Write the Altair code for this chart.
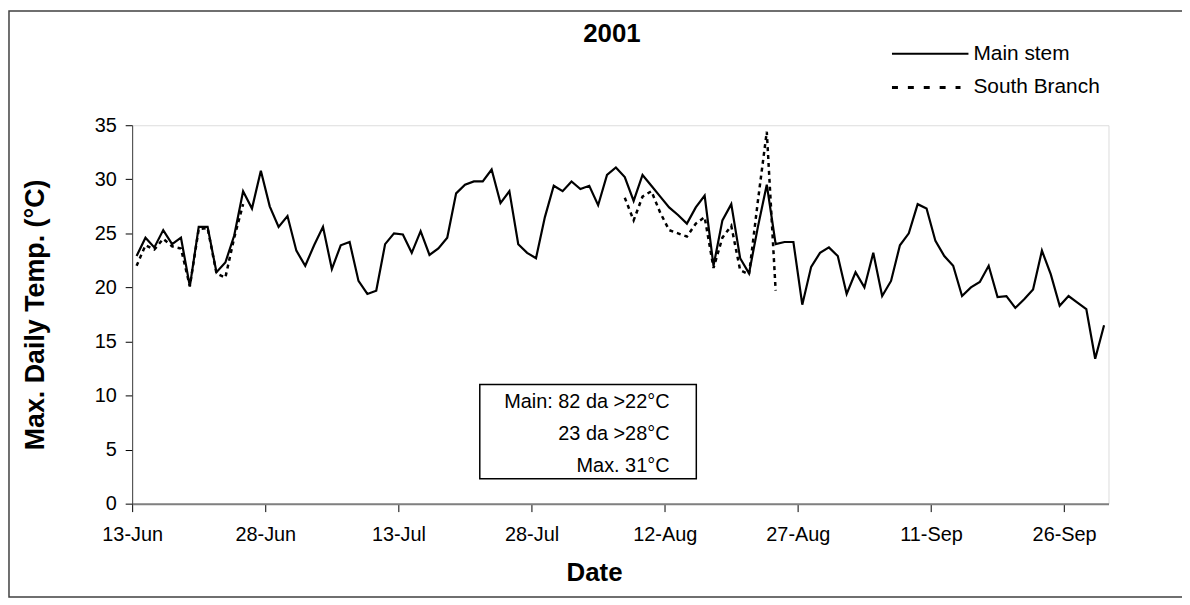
import altair as alt
import pandas as pd

start_date = "2001-06-13"

main_stem = [
    22.9, 24.6, 23.7, 25.3, 24.0, 24.6, 20.1, 25.6, 25.6, 21.4,
    22.3, 24.8, 28.9, 27.3, 30.8, 27.5, 25.6, 26.6, 23.4, 22.0,
    23.9, 25.6, 21.7, 23.9, 24.2, 20.6, 19.4, 19.7, 24.0, 25.0,
    24.9, 23.2, 25.2, 23.0, 23.6, 24.6, 28.7, 29.5, 29.8, 29.8,
    30.9, 27.8, 28.9, 24.0, 23.2, 22.7, 26.5, 29.4, 28.9, 29.8,
    29.1, 29.4, 27.6, 30.4, 31.1, 30.2, 28.0, 30.4, 29.4, 28.4,
    27.4, 26.7, 25.9, 27.4, 28.5, 22.0, 26.2, 27.7, 22.7, 21.3,
    25.6, 29.5, 24.0, 24.2, 24.2, 18.4, 21.9, 23.2, 23.7, 22.9,
    19.4, 21.4, 20.0, 23.2, 19.2, 20.6, 23.9, 25.0, 27.7, 27.3,
    24.3, 22.9, 22.0, 19.2, 20.0, 20.5, 22.0, 19.1, 19.2, 18.1,
    18.9, 19.8, 23.4, 21.2, 18.3, 19.2, 18.6, 18.0, 13.4, 16.5,
]

N = None
south_branch = [
    22.0, 23.9, 23.5, 24.5, 23.8, 23.6, 20.1, 25.4, 25.5, 21.3,
    20.9, 24.6, 27.7, N, N, N, N, N, N, N,
    N, N, N, N, N, N, N, N, N, N,
    N, N, N, N, N, N, N, N, N, N,
    N, N, N, N, N, N, N, N, N, N,
    N, N, N, N, N, 28.3, 26.2, 28.4, 28.9, 26.9,
    25.3, 25.0, 24.7, 25.9, 26.5, 21.8, 24.6, 25.7, 21.6, 21.2,
    28.0, 34.4, 19.7, N, N, N, N, N, N, N,
    N, N, N, N, N, N, N, N, N, N,
    N, N, N, N, N, N, N, N, N, N,
    N, N, N, N, N, N, N, N, N, N,
]

tick_dates = [(6, 13), (6, 28), (7, 13), (7, 28), (8, 12), (8, 27), (9, 11), (9, 26)]
y_ticks = [0, 5, 10, 15, 20, 25, 30, 35]
series_names = ["Main stem", "South Branch"]
box_lines = ["Main: 82 da >22°C", "23 da >28°C", "Max. 31°C"]
chart_title = "2001"

FONT = "Liberation Sans"

dates = pd.date_range(start_date, periods=len(main_stem), freq="D") + pd.Timedelta(hours=12)
main_df = pd.DataFrame({"date": dates, "temp": main_stem})
south_df = pd.DataFrame({"date": dates, "temp": south_branch})
south_df["seg"] = south_df["temp"].isna().cumsum()
south_df = south_df.dropna().reset_index(drop=True)

x_enc = alt.X(
    "date:T",
    scale=alt.Scale(
        domain=[alt.DateTime(year=2001, month=6, date=13), alt.DateTime(year=2001, month=10, date=1)],
        nice=False,
    ),
    axis=alt.Axis(
        values=[alt.DateTime(year=2001, month=m, date=d) for m, d in tick_dates],
        format="%d-%b",
        title="Date",
        titleFontSize=26,
        titleFontWeight="bold",
        titleX=465,
        titleY=69,
        titleBaseline="middle",
        titleAlign="center",
        labelFontSize=20,
        labelColor="black",
        labelPadding=13,
        tickSize=8,
        tickColor="black",
        domainColor="#808080",
        domainWidth=2,
        grid=False,
        labelFlush=False,
        labelOverlap=False,
    ),
)

y_enc = alt.Y(
    "temp:Q",
    scale=alt.Scale(domain=[0, 35], nice=False, zero=True),
    axis=alt.Axis(
        values=y_ticks,
        title="Max. Daily Temp. (°C)",
        titleFontSize=27,
        titleFontWeight="bold",
        titleAngle=-90,
        titleX=-97,
        titleY=190.5,
        titleBaseline="middle",
        titleAlign="center",
        labelFontSize=20,
        labelColor="black",
        labelPadding=9,
        tickSize=7,
        tickColor="black",
        domainColor="#404040",
        domainWidth=1,
        grid=False,
    ),
)

main_line = alt.Chart(main_df).mark_line(color="black", strokeWidth=2.2).encode(x=x_enc, y=y_enc)

south_line = alt.Chart(south_df).mark_line(
    color="black", strokeWidth=2.5, strokeDash=[4, 4]
).encode(x="date:T", y="temp:Q", detail="seg:N")

one = pd.DataFrame({"k": [0]})

frame = alt.Chart(one).mark_rect(fillOpacity=0, stroke="#404040", strokeWidth=1.5).encode(
    x=alt.value(-124), x2=alt.value(1075), y=alt.value(-115), y2=alt.value(475)
)

title_mark = alt.Chart(one).mark_text(
    text=chart_title, fontSize=26, fontWeight="bold", font=FONT, align="center", baseline="middle"
).encode(x=alt.value(483), y=alt.value(-92))

leg_rule1 = alt.Chart(one).mark_rule(color="black", strokeWidth=2).encode(
    x=alt.value(765), x2=alt.value(842), y=alt.value(-72)
)
leg_rule2 = alt.Chart(one).mark_rule(color="black", strokeWidth=3, strokeDash=[6, 10]).encode(
    x=alt.value(765), x2=alt.value(834), y=alt.value(-38)
)
leg_text1 = alt.Chart(one).mark_text(
    text=series_names[0], fontSize=21, font=FONT, align="left", baseline="middle"
).encode(x=alt.value(847), y=alt.value(-72))
leg_text2 = alt.Chart(one).mark_text(
    text=series_names[1], fontSize=21, font=FONT, align="left", baseline="middle"
).encode(x=alt.value(847), y=alt.value(-38))

box = alt.Chart(one).mark_rect(fill="white", stroke="black", strokeWidth=1.5).encode(
    x=alt.value(350), x2=alt.value(568), y=alt.value(261), y2=alt.value(356)
)
box_texts = [
    alt.Chart(one).mark_text(
        text=t, fontSize=20, font=FONT, align="right", baseline="middle"
    ).encode(x=alt.value(541), y=alt.value(yy))
    for t, yy in zip(box_lines, [279, 311, 343])
]

chart = alt.layer(
    frame, title_mark, leg_rule1, leg_rule2, leg_text1, leg_text2, box, *box_texts, south_line, main_line
).properties(
    width=983,
    height=381,
    padding={"left": 125, "top": 116, "right": 74, "bottom": 100},
    autosize=alt.AutoSizeParams(type="none"),
).configure_view(stroke=None).configure(font=FONT)

chart.save("out.html", embed_options={"renderer": "svg", "actions": False})
